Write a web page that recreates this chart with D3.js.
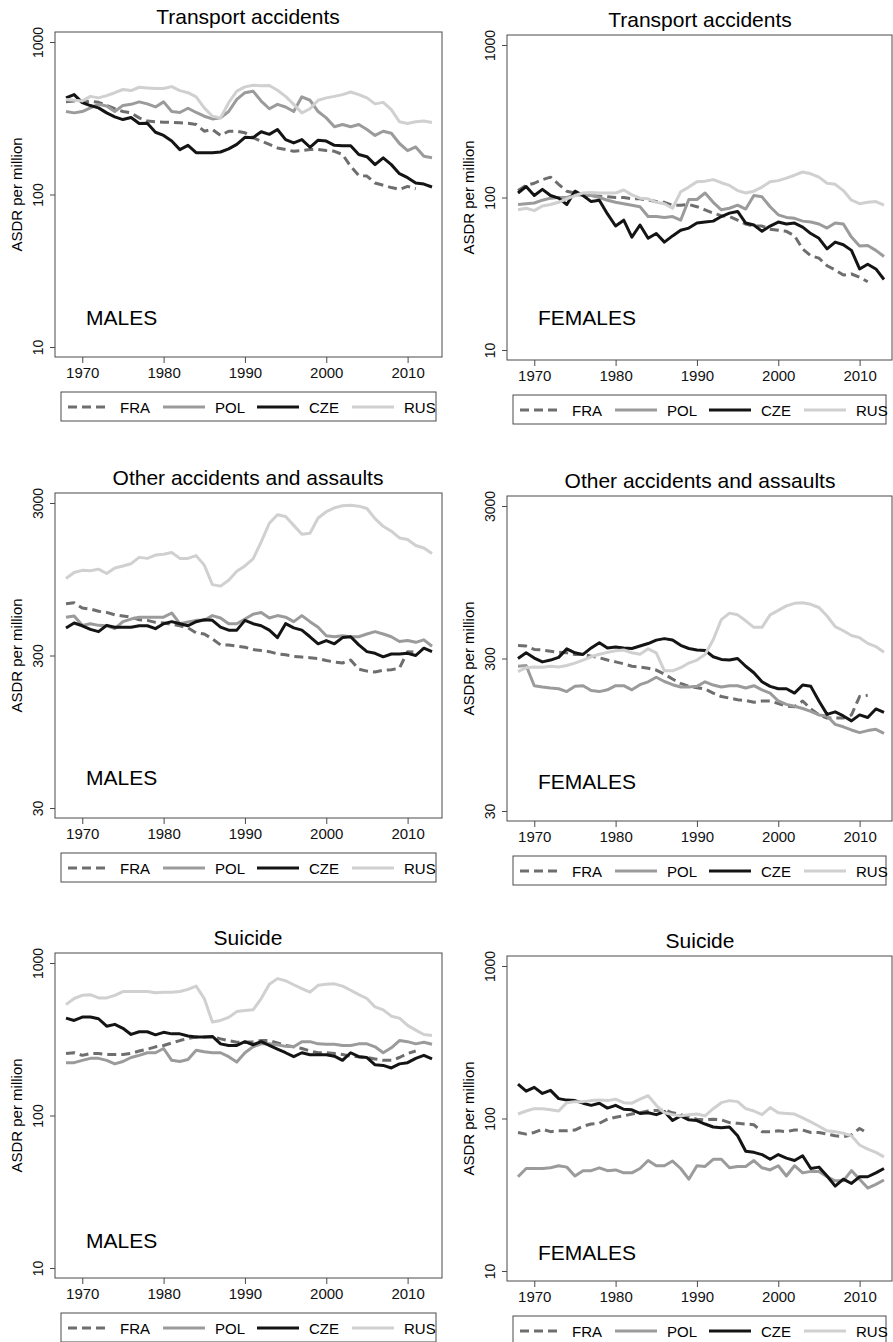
<!DOCTYPE html>
<html lang="en">
<head>
<meta charset="UTF-8">
<title>ASDR per million by cause</title>
<style>
  body { margin: 0; background: #fff; }
  svg { display: block; font-family: "Liberation Sans", Arial, Helvetica, sans-serif; }
</style>
</head>
<body>
<svg id="chart" width="893" height="1342"></svg>
<script src="https://d3js.org/d3.v7.min.js"></script>
<script>
// years on the x axis, FRA stops at 2011
const years = d3.range(1968, 2014);
const xTicks = [1970, 1980, 1990, 2000, 2010];
const countries = ["FRA", "POL", "CZE", "RUS"];

// Transport accidents, males
const transMFRA = [405,410,405,408,402,383,365,350,343,318, 303,300,298,297,295,293,288,260,267,244, 260,260,254,236,224,213,202,197,192,194, 197,197,194,192,183,153,133,132,119,115, 111,108,113,109];
const transMPOL = [350,343,350,370,390,380,350,384,390,405, 393,375,405,350,345,368,345,326,313,318, 350,420,465,476,410,365,390,375,350,437, 415,350,318,278,288,278,288,267,244,260, 252,216,194,205,178,174];
const transMCZE = [430,452,400,383,370,343,323,310,320,292, 293,256,244,224,197,210,188,188,188,190, 199,213,237,236,258,248,267,229,218,229, 204,227,224,210,209,209,183,177,157,174, 157,137,129,119,117,112];
const transMRUS = [420,415,410,440,430,445,465,488,480,505, 500,495,495,510,480,465,437,370,326,318, 400,476,508,520,516,518,483,440,390,343, 365,415,430,440,452,470,452,430,393,402, 360,300,292,300,303,297];

// Transport accidents, females
const transFFRA = [111,120,124,131,136,122,110,107,103,103, 102,101,100,100,98,98,96,94,93,89, 89,90,87,83,79,76,75,71,67,65, 65,62,61,60,56,46,41.5,40,35.7,33.5, 31,31.5,30,28];
const transFPOL = [90,91,92,96,99,100,100,104,104,103, 100,96,93,91,89,87,75,75,74,75, 71,97,97,107,93,83,85,89,84,103, 101,87,77,74,73,70,69,67,63,68, 67,55,48,48.5,45,41];
const transFCZE = [107,118,103,113,103,99,90,110,103,94, 96,78,65,71,55,66,54,58,51,56, 61,63,68,69,70,75,79,81,68,66, 60,65,69,67,68,64,58,54,46,51, 49,45,34,36.5,34,29];
const transFRUS = [83,85,82,88,90,93,98,103,107,108, 107,107,107,112,104,99,98,93,91,85, 109,117,127,128,131,125,120,111,107,110, 117,127,129,134,140,147,143,136,124,122, 111,96,91,93,94,89];

// Other accidents and assaults, males
const otherMFRA = [655,665,615,605,585,575,555,545,535,515, 510,495,490,480,470,455,422,415,385,352, 352,345,340,328,323,318,307,303,296,293, 290,286,278,272,268,280,244,237,234,240, 242,248,318,315];
const otherMPOL = [535,545,473,485,473,470,450,500,520,535, 535,535,535,570,485,497,510,510,548,528, 485,485,520,560,575,528,548,535,500,548, 500,460,404,398,404,398,398,415,430,415, 398,371,376,366,380,345];
const otherMCZE = [455,490,470,445,430,473,460,460,460,470, 470,450,485,500,485,470,500,515,510,460, 440,440,510,485,470,440,393,485,455,440, 398,358,376,358,393,398,352,318,310,294, 307,307,310,300,335,318];
const otherMRUS = [960,1050,1085,1080,1105,1035,1125,1160,1200,1320, 1300,1367,1385,1420,1300,1300,1355,1174,875,855, 935,1070,1160,1290,1670,2210,2510,2450,2140,1870, 1900,2390,2630,2790,2880,2900,2860,2760,2370,2110, 1960,1770,1730,1580,1520,1400];

// Other accidents and assaults, females
const otherFFRA = [365,362,344,341,335,330,327,319,319,311, 303,293,285,277,267,264,259,252,237,220, 206,197,193,189,178,169,165,161,159,155, 158,158,152,146,145,158,140,128,122,122, 122,128,169,172];
const otherFPOL = [267,270,199,195,192,190,182,197,199,185, 182,187,199,199,187,202,211,226,212,202, 195,195,197,211,201,195,199,199,192,199, 187,178,158,150,146,141,135,128,126,111, 107,102,98,101,103,97];
const otherFCZE = [300,327,302,285,293,305,347,327,319,352, 381,352,357,352,349,362,376,396,405,397, 366,349,341,339,308,296,293,300,267,242, 211,197,190,190,178,201,197,158,129,134, 126,117,128,123,140,133];
const otherFRUS = [246,261,264,263,267,264,270,280,293,308, 320,329,337,341,327,320,347,327,249,249, 261,280,293,319,398,540,595,580,530,480, 480,580,620,664,690,697,680,648,570,486, 456,425,411,377,359,330];

// Suicide, males
const suicMFRA = [255,258,248,255,255,251,251,251,255,265, 272,282,288,299,310,320,327,327,327,318, 310,302,302,305,310,310,299,288,282,275, 265,258,258,255,251,245,243,240,235,230, 230,240,255,265];
const suicMPOL = [222,222,230,237,237,230,218,226,240,248, 258,258,275,230,226,233,268,262,258,258, 243,224,258,282,295,295,291,284,282,305, 305,295,293,293,288,288,295,295,282,258, 278,310,305,295,302,293];
const suicMCZE = [435,420,442,442,431,385,396,373,340,354, 354,338,351,343,343,332,327,327,330,295, 288,288,305,291,305,288,272,258,243,258, 250,250,250,245,230,258,243,240,215,213, 205,218,222,237,248,235];
const suicMRUS = [533,585,614,620,590,590,614,650,650,650, 650,638,644,644,650,672,705,585,410,420, 440,480,488,493,585,725,790,765,720,680, 644,714,725,730,705,663,620,585,515,493, 448,435,390,363,340,335];

// Suicide, females
const suicFFRA = [81,79,81,85,82,83,83,84,89,92, 93,99,102,104,107,109,112,113,114,109, 106,102,99,98,99,98,94,93,92,91, 82,82,83,82,84,84,81,81,79,77, 76,78,86,80];
const suicFPOL = [41.5,47,47,47,47.5,49,48,42,45.5,45.5, 47.5,45.5,46,44,44,47,53,49,49,52.6, 47,40,49,48.5,54,54,47.5,48.5,48.5,53, 47.5,46,49,42,49,44,45,45,41.5,39, 39,45.5,40,35,37,39.5];
const suicFCZE = [168,151,160,146,153,135,132,131,126,122, 126,117,122,115,114,108,109,106,111,97, 104,98,97,92,88,87,88,77,61,60, 58,54,58,55,53,57,47,48,42,36, 40,37.5,41.5,41.5,44,47];
const suicFRUS = [107,112,116,116,114,112,127,129,129,131, 132,131,134,127,126,134,141,122,109,106, 104,106,107,104,116,127,131,129,116,112, 106,118,109,108,107,101,95,89,83,82, 80,77,67,63,60,56];

const ticksLow = [10, 100, 1000];
const ticksHigh = [30, 300, 3000];

const panels = [
  { title: "Transport accidents", sex: "MALES", left: 55, top: 32, width: 387, ticks: ticksLow,
    data: { FRA: transMFRA, POL: transMPOL, CZE: transMCZE, RUS: transMRUS }, labelUp: 32 },
  { title: "Transport accidents", sex: "FEMALES", left: 507, top: 35, width: 385, ticks: ticksLow,
    data: { FRA: transFFRA, POL: transFPOL, CZE: transFCZE, RUS: transFRUS }, labelUp: 35 },
  { title: "Other accidents and assaults", sex: "MALES", left: 55, top: 493, width: 387, ticks: ticksHigh,
    data: { FRA: otherMFRA, POL: otherMPOL, CZE: otherMCZE, RUS: otherMRUS }, labelUp: 33 },
  { title: "Other accidents and assaults", sex: "FEMALES", left: 507, top: 496, width: 385, ticks: ticksHigh,
    data: { FRA: otherFFRA, POL: otherFPOL, CZE: otherFCZE, RUS: otherFRUS }, labelUp: 32 },
  { title: "Suicide", sex: "MALES", left: 55, top: 953, width: 387, ticks: ticksLow,
    data: { FRA: suicMFRA, POL: suicMPOL, CZE: suicMCZE, RUS: suicMRUS }, labelUp: 30 },
  { title: "Suicide", sex: "FEMALES", left: 507, top: 956, width: 385, ticks: ticksLow,
    data: { FRA: suicFFRA, POL: suicFPOL, CZE: suicFCZE, RUS: suicFRUS }, labelUp: 21 }
];

const lineStyle = {
  FRA: { color: "#6e6e6e", dash: "9,5" },
  POL: { color: "#9b9b9b", dash: null },
  CZE: { color: "#141414", dash: null },
  RUS: { color: "#d0d0d0", dash: null }
};

const svg = d3.select("#chart");
const boxH = 325;

function drawPanel(p) {
  const g = svg.append("g");
  const bottom = p.top + boxH;

  const x = d3.scaleLinear().domain([1968, 2013]).range([p.left + 11, p.left + 377]);
  const y = d3.scaleLog().domain([p.ticks[0], p.ticks[2]]).range([bottom - 10, p.top + 10]);

  // title
  g.append("text")
    .attr("x", p.left + 193)
    .attr("y", p.top - 8)
    .attr("text-anchor", "middle")
    .attr("font-size", 21)
    .text(p.title);

  // lines, drawn in legend order
  countries.forEach(c => {
    const line = d3.line()
      .x((d, i) => x(years[i]))
      .y(d => y(d));
    g.append("path")
      .datum(p.data[c])
      .attr("d", line)
      .attr("fill", "none")
      .attr("stroke", lineStyle[c].color)
      .attr("stroke-width", 3)
      .attr("stroke-linejoin", "round")
      .attr("stroke-dasharray", lineStyle[c].dash);
  });

  // frame
  g.append("rect")
    .attr("x", p.left).attr("y", p.top)
    .attr("width", p.width).attr("height", boxH)
    .attr("fill", "none").attr("stroke", "#4a4a4a").attr("stroke-width", 1);

  // y axis
  const ya = g.append("g")
    .attr("transform", `translate(${p.left},0)`)
    .call(d3.axisLeft(y).tickValues(p.ticks).tickFormat(d3.format("d")).tickSize(5));
  ya.select(".domain").remove();
  ya.selectAll("line").attr("stroke", "#4a4a4a");
  ya.selectAll("text")
    .attr("font-size", 14)
    .attr("font-family", null)
    .attr("fill", "#111")
    .attr("transform", "rotate(-90)")
    .attr("x", 0).attr("y", -12).attr("dy", 0)
    .attr("text-anchor", "middle");
  ya.attr("font-family", null);

  // x axis
  const xa = g.append("g")
    .attr("transform", `translate(0,${bottom})`)
    .call(d3.axisBottom(x).tickValues(xTicks).tickFormat(d3.format("d")).tickSize(6).tickPadding(4));
  xa.select(".domain").remove();
  xa.attr("font-family", null);
  xa.selectAll("line").attr("stroke", "#4a4a4a");
  xa.selectAll("text").attr("font-size", 15).attr("fill", "#111");

  // y title
  g.append("text")
    .attr("transform", `translate(${p.left - 33},${p.top + boxH / 2}) rotate(-90)`)
    .attr("text-anchor", "middle")
    .attr("font-size", 15)
    .text("ASDR per million");

  // sex label
  g.append("text")
    .attr("x", p.left + 31)
    .attr("y", bottom - p.labelUp)
    .attr("font-size", 21)
    .text(p.sex);

  // legend
  const lx = p.left + 6, ly = bottom + 35;
  const lg = g.append("g");
  lg.append("rect")
    .attr("x", lx).attr("y", ly)
    .attr("width", p.width - 12).attr("height", 29)
    .attr("fill", "none").attr("stroke", "#4a4a4a").attr("stroke-width", 1);
  const itemX = [7, 102, 196, 291];
  countries.forEach((c, i) => {
    lg.append("line")
      .attr("x1", lx + itemX[i]).attr("x2", lx + itemX[i] + 42)
      .attr("y1", ly + 15).attr("y2", ly + 15)
      .attr("stroke", lineStyle[c].color)
      .attr("stroke-width", 3)
      .attr("stroke-dasharray", lineStyle[c].dash);
    lg.append("text")
      .attr("x", lx + itemX[i] + 52)
      .attr("y", ly + 21)
      .attr("font-size", 15)
      .text(c);
  });
}

panels.forEach(drawPanel);
</script>
</body>
</html>
